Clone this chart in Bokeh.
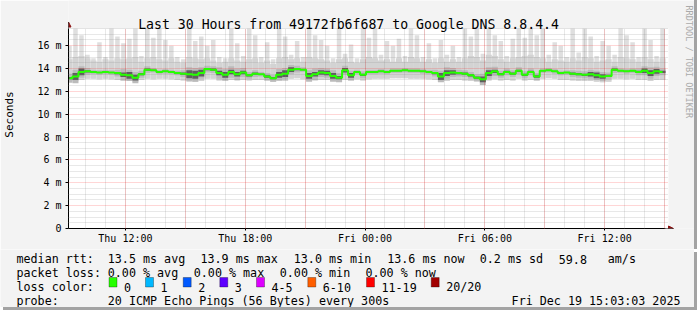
import math
from bokeh.plotting import figure
from bokeh.models import Range1d, FixedTicker, Grid, Label, BoxAnnotation, Arrow, NormalHead
from bokeh.embed import file_html
from bokeh.resources import INLINE

# ---------------- data ----------------
TITLE = "Last 30 Hours from 49172fb6f687 to Google DNS 8.8.4.4"
WATERMARK = "RRDTOOL / TOBI OETIKER"
Y_LABEL = "Seconds"
bin_hours = 0.3          # width of one time bin (hours)
first_bin_center = 9.2   # Thu 09:12
n_bins = 100
hours = [first_bin_center + bin_hours * k for k in range(n_bins)]

median_ms = [13.15, 13.3, 13.7, 13.75, 13.7, 13.65, 13.7, 13.65, 13.6, 13.45,
             13.4, 13.2, 13.5, 13.9, 13.85, 13.7, 13.75, 13.7, 13.6, 13.55,
             13.5, 13.45, 13.6, 13.95, 13.9, 13.6, 13.45, 13.7, 13.5, 13.65,
             13.4, 13.55, 13.5, 13.3, 13.15, 13.45, 13.55, 13.9, 13.95, 13.9,
             13.35, 13.5, 13.65, 13.6, 13.35, 13.2, 13.85, 13.4, 13.7, 13.45,
             13.7, 13.7, 13.75, 13.7, 13.8, 13.8, 13.85, 13.8, 13.8, 13.75,
             13.7, 13.6, 13.3, 13.6, 13.65, 13.6, 13.55, 13.4, 13.2, 13.05,
             13.6, 13.75, 13.5, 13.7, 13.55, 13.8, 13.45, 13.7, 13.3, 13.8,
             13.85, 13.75, 13.6, 13.65, 13.55, 13.5, 13.45, 13.5, 13.4, 13.3,
             13.35, 13.9, 13.8, 13.75, 13.8, 13.7, 13.8, 13.6, 13.75, 13.7]

max_ms = [16.0, 17.5, 16.9, 15.2, 14.9, 16.3, 15.0, 17.5, 16.8, 16.2,
          16.6, 17.5, 15.1, 17.5, 16.7, 17.5, 16.5, 16.0, 15.0, 14.8,
          17.5, 16.4, 16.8, 16.0, 16.5, 15.0, 14.9, 17.5, 16.2, 15.1,
          17.5, 16.9, 15.0, 16.3, 14.8, 17.5, 16.8, 15.2, 16.4, 15.0,
          17.5, 16.9, 16.5, 16.0, 14.9, 17.5, 15.3, 16.1, 14.9, 17.5,
          16.7, 17.5, 15.2, 16.4, 16.0, 16.6, 15.1, 17.5, 16.9, 15.0,
          16.2, 14.9, 16.5, 15.2, 16.0, 15.0, 17.5, 16.8, 17.5, 15.3,
          17.5, 16.9, 16.4, 15.1, 16.6, 17.5, 16.7, 17.5, 16.9, 17.5,
          15.2, 16.3, 16.0, 15.0, 17.5, 15.4, 17.5, 16.8, 15.1, 16.4,
          16.0, 15.2, 17.5, 16.9, 16.3, 15.0, 17.5, 16.5, 15.1, 17.5]

p90_ms = [14.8, 15.0, 15.1, 14.9, 14.7, 14.6, 14.8, 14.7, 14.9, 14.8,
          14.9, 15.0, 14.6, 14.9, 15.0, 14.8, 14.7, 14.9, 14.6, 14.5,
          15.0, 14.9, 14.8, 14.9, 14.7, 14.5, 14.6, 14.9, 14.7, 14.6,
          14.8, 14.9, 14.5, 14.7, 14.4, 14.9, 15.0, 14.8, 14.9, 14.6,
          15.0, 14.9, 14.8, 14.7, 14.5, 14.8, 14.9, 14.6, 14.5, 14.8,
          15.0, 14.9, 14.7, 14.8, 14.6, 14.9, 14.6, 15.0, 14.9, 14.6,
          14.8, 14.5, 14.9, 14.6, 14.8, 14.6, 14.9, 15.1, 15.0, 14.7,
          15.2, 15.1, 14.8, 14.6, 14.9, 15.0, 15.1, 15.2, 15.0, 14.9,
          14.6, 14.8, 14.7, 14.6, 14.9, 14.7, 15.0, 14.9, 14.6, 14.7,
          14.8, 14.6, 15.0, 14.9, 14.8, 14.6, 15.0, 14.8, 14.6, 14.9]

min_ms = [12.95, 12.9, 13.0, 13.1, 13.1, 13.05, 13.1, 13.05, 13.0, 12.95,
          12.9, 12.85, 13.0, 13.1, 13.05, 13.1, 13.1, 13.05, 13.0, 12.95,
          12.85, 12.85, 12.9, 13.1, 13.1, 12.95, 12.9, 13.0, 12.95, 13.0,
          12.95, 13.0, 13.0, 12.9, 12.85, 12.9, 12.9, 13.1, 13.15, 13.05,
          12.9, 12.95, 13.0, 13.0, 12.9, 12.85, 13.0, 12.9, 13.05, 12.95,
          13.05, 13.1, 13.1, 13.1, 13.15, 13.15, 13.15, 13.1, 13.1, 13.1,
          13.05, 13.0, 12.85, 12.9, 13.0, 13.0, 12.95, 12.9, 12.85, 12.75,
          12.95, 13.05, 12.95, 13.0, 12.95, 13.1, 12.95, 13.0, 12.9, 13.1,
          13.15, 13.1, 13.0, 13.0, 12.95, 12.9, 12.9, 12.9, 12.85, 12.8,
          12.85, 13.1, 13.1, 13.05, 13.1, 13.0, 13.0, 12.9, 13.0, 13.0]

mid_spread_ms = [0.4, 0.6, 0.5, 0.3, 0.2, 0.2, 0.2, 0.2, 0.3, 0.5,
                 0.5, 0.5, 0.3, 0.3, 0.2, 0.2, 0.2, 0.2, 0.2, 0.3,
                 0.6, 0.6, 0.5, 0.3, 0.3, 0.5, 0.5, 0.5, 0.5, 0.4,
                 0.3, 0.3, 0.2, 0.3, 0.3, 0.5, 0.5, 0.4, 0.3, 0.2,
                 0.5, 0.5, 0.4, 0.4, 0.5, 0.4, 0.4, 0.4, 0.2, 0.3,
                 0.2, 0.2, 0.2, 0.2, 0.2, 0.2, 0.2, 0.2, 0.2, 0.2,
                 0.2, 0.3, 0.5, 0.5, 0.4, 0.3, 0.3, 0.3, 0.3, 0.5,
                 0.5, 0.4, 0.3, 0.3, 0.3, 0.3, 0.3, 0.3, 0.3, 0.2,
                 0.2, 0.2, 0.2, 0.2, 0.3, 0.3, 0.3, 0.4, 0.4, 0.4,
                 0.3, 0.3, 0.2, 0.2, 0.2, 0.3, 0.4, 0.5, 0.4, 0.3]

dark_spread_ms = [0.1, 0.3, 0.3, 0.1, 0.05, 0.05, 0.05, 0.05, 0.1, 0.2,
                  0.3, 0.25, 0.1, 0.1, 0.05, 0.05, 0.05, 0.05, 0.05, 0.1,
                  0.35, 0.35, 0.3, 0.1, 0.1, 0.2, 0.25, 0.2, 0.2, 0.15,
                  0.1, 0.1, 0.05, 0.1, 0.1, 0.25, 0.3, 0.2, 0.1, 0.05,
                  0.25, 0.2, 0.2, 0.2, 0.25, 0.15, 0.2, 0.2, 0.05, 0.1,
                  0.05, 0.05, 0.05, 0.05, 0.05, 0.05, 0.05, 0.05, 0.05, 0.05,
                  0.05, 0.1, 0.3, 0.25, 0.2, 0.1, 0.1, 0.1, 0.1, 0.25,
                  0.25, 0.15, 0.1, 0.1, 0.1, 0.1, 0.1, 0.1, 0.1, 0.05,
                  0.05, 0.05, 0.05, 0.05, 0.1, 0.1, 0.1, 0.2, 0.25, 0.2,
                  0.1, 0.1, 0.05, 0.05, 0.05, 0.1, 0.2, 0.25, 0.2, 0.1]

x_tick_hours = [12, 18, 24, 30, 36]
x_tick_labels = ["Thu 12:00", "Thu 18:00", "Fri 00:00", "Fri 06:00", "Fri 12:00"]
y_ticks = [0, 2, 4, 6, 8, 10, 12, 14, 16]
y_tick_labels = ["0", "2 m", "4 m", "6 m", "8 m", "10 m", "12 m", "14 m", "16 m"]

rtt_stats = ["13.5 ms avg", "13.9 ms max", "13.0 ms min", "13.6 ms now", "0.2 ms sd", "59.8", "am/s"]
loss_stats = ["0.00 % avg", "0.00 % max", "0.00 % min", "0.00 % now"]
loss_names = ["0", "1", "2", "3", "4-5", "6-10", "11-19", "20/20"]
loss_colors = ["#26FF00", "#00B8FF", "#0059FF", "#5E00FF", "#DD00FF", "#FF5E00", "#FF0000", "#A10000"]
probe_text = "20 ICMP Echo Pings (56 Bytes) every 300s"
stamp_text = "Fri Dec 19 15:03:03 2025"

# ---------------- layout constants (pixels) ----------------
MONO = "DejaVu Sans Mono"
LEG_FONT = "11.7px"
BG = "#F3F3F3"
W = 694
MAIN_H = 249
LEG_H = 307 - MAIN_H
AX_X, AX_Y = 67, 228              # frame left / bottom = axes position
PXH = 20.0                        # px per hour
X0, X1 = 9.15, 39.05              # graph time span (hours since Thu 00:00)
Y1 = 17.5                         # graph top (ms)
PXM = (AX_Y - 28) / Y1            # px per ms


def hx(px):
    return X0 + (px - AX_X) / PXH


def vy(py):
    return (AX_Y - py) / PXM


p = figure(width=W, height=MAIN_H, output_backend="svg", toolbar_location=None,
           x_range=Range1d(X0, hx(W)), y_range=Range1d(0, vy(0)),
           min_border_left=AX_X, min_border_right=0, min_border_top=0,
           min_border_bottom=MAIN_H - AX_Y)
p.background_fill_color = BG
p.border_fill_color = BG
p.outline_line_color = None
p.styles = {"box-shadow": "3px 0 0 #A3A3A3"}

# white graph canvas
p.add_layout(BoxAnnotation(left=X0, right=hx(668), bottom=0, top=Y1, fill_color="white",
                           fill_alpha=1, line_color=None, level="underlay"))

# smoke
p.vbar(x=hours, width=bin_hours * 0.75, bottom=min_ms, top=max_ms, fill_color="#DFDFDF", line_color=None)
p.vbar(x=hours, width=bin_hours, bottom=min_ms, top=p90_ms, fill_color="#D3D3D3", line_color=None)
mid_lo = [m - s for m, s in zip(median_ms, mid_spread_ms)]
mid_hi = [m + s for m, s in zip(median_ms, mid_spread_ms)]
p.vbar(x=hours, width=bin_hours, bottom=mid_lo, top=mid_hi, fill_color="#BBBBBB", line_color=None)
dk_lo = [m - s for m, s in zip(median_ms, dark_spread_ms)]
dk_hi = [m + s for m, s in zip(median_ms, dark_spread_ms)]
p.vbar(x=hours, width=bin_hours, bottom=dk_lo, top=dk_hi, fill_color="#5E5E5E", line_color=None)
# median line coloured by loss (0 loss -> green), drawn above the grid
med = p.step(x=hours, y=median_ms, mode="center", line_color=loss_colors[0], line_width=2)
med.level = "overlay"

# axes
for ax in (p.xaxis[0], p.yaxis[0]):
    ax.axis_line_color = "black"
    ax.major_tick_line_color = "black"
    ax.major_tick_in = 0
    ax.minor_tick_in = 0
    ax.minor_tick_out = 0
    ax.major_label_text_font = MONO
    ax.major_label_text_font_size = "10px"
    ax.major_label_text_color = "black"

p.xaxis.bounds = (X0, X1)
p.xaxis.major_tick_out = 2
p.xaxis.ticker = FixedTicker(ticks=x_tick_hours, minor_ticks=[h for h in range(10, 40)])
p.xaxis.major_label_overrides = dict(zip(x_tick_hours, x_tick_labels))
p.xaxis.major_label_standoff = 2

p.yaxis.bounds = (0, Y1)
p.yaxis.major_tick_out = 3
p.yaxis.ticker = FixedTicker(ticks=y_ticks, minor_ticks=[v / 2 for v in range(1, 36) if v % 4])
p.yaxis.major_label_overrides = dict(zip(y_ticks, y_tick_labels))
p.yaxis.major_label_standoff = 4
p.yaxis.axis_label = Y_LABEL
p.yaxis.axis_label_text_font = MONO
p.yaxis.axis_label_text_font_size = "11px"
p.yaxis.axis_label_text_font_style = "normal"
p.yaxis.axis_label_text_color = "black"
p.yaxis.axis_label_standoff = 18

# grids (drawn over the smoke)
MAJ = dict(color="#FF0000", alpha=0.32)
MIN = dict(color="#808080", alpha=0.36)
p.xgrid.grid_line_color = None
p.xgrid.minor_grid_line_color = MIN["color"]
p.xgrid.minor_grid_line_alpha = MIN["alpha"]
p.xgrid.minor_grid_line_dash = "1 1"
p.xgrid.level = "guide"
p.ygrid.grid_line_color = MAJ["color"]
p.ygrid.grid_line_alpha = MAJ["alpha"]
p.ygrid.grid_line_dash = "1 1"
p.ygrid.minor_grid_line_color = MIN["color"]
p.ygrid.minor_grid_line_alpha = MIN["alpha"]
p.ygrid.minor_grid_line_dash = "1 1"
p.ygrid.level = "guide"
red_x = Grid(dimension=0, ticker=FixedTicker(ticks=list(range(12, 40, 3))),
             grid_line_color=MAJ["color"], grid_line_alpha=MAJ["alpha"], grid_line_dash="1 1", level="guide")
p.add_layout(red_x)
for g, cb in ((p.xgrid[0], (0, Y1)), (red_x, (0, Y1)), (p.ygrid[0], (X0, hx(668)))):
    try:
        g.cross_bounds = cb
    except Exception:
        pass

# axis arrows
HEAD = dict(size=5, fill_color="#8B1010", line_color="#8B1010")
p.add_layout(Arrow(x_start=X0, y_start=Y1, x_end=X0, y_end=vy(21.5), line_color="black",
                   line_width=1, end=NormalHead(**HEAD)))
p.add_layout(Arrow(x_start=X1, y_start=0, x_end=hx(673), y_end=0, line_color="black",
                   line_width=1, end=NormalHead(**HEAD)))

# title and watermark (inside the frame area)
p.add_layout(Label(x=hx(347.5), y=vy(24), text=TITLE, text_font=MONO, text_font_size="13.2px",
                   text_color="black", text_align="center", text_baseline="alphabetic"))
p.add_layout(Label(x=hx(688), y=vy(5), text=WATERMARK, text_font=MONO, text_font_size="8.5px",
                   text_color="#AAAAAA", text_align="left", text_baseline="middle",
                   angle=-math.pi / 2))

# ---------------- legend strip (its own root, pixel coordinates) ----------------
lg = figure(width=W, height=LEG_H, output_backend="svg", toolbar_location=None,
            x_range=Range1d(0, W), y_range=Range1d(307, MAIN_H),
            x_axis_type=None, y_axis_type=None, min_border=0)
lg.background_fill_color = BG
lg.border_fill_color = BG
lg.outline_line_color = None
lg.grid.visible = False
lg.styles = {"box-shadow": "3px 3px 0 #A3A3A3"}


def lab(px, py, text, align="left"):
    lg.add_layout(Label(x=px, y=py, text=text, text_font=MONO, text_font_size=LEG_FONT,
                        text_color="black", text_align=align, text_baseline="alphabetic"))


lab(16, 258.5, "median rtt:")
for xp, t in zip([107.3, 200, 293.3, 386.7, 479.3, 558.3, 607.3], rtt_stats):
    lab(xp, 258.5, t)
lab(16, 272.5, "packet loss:")
for xp, t in zip([107.3, 193.3, 279.3, 365], loss_stats):
    lab(xp, 272.5, t)
lab(16, 286.5, "loss color:")
for xp, name, col in zip([108.5, 145, 182.7, 219.3, 256, 307.3, 366, 430.7], loss_names, loss_colors):
    lg.add_layout(BoxAnnotation(left=xp, right=xp + 8, top=277, bottom=286.5, fill_color=col,
                                fill_alpha=1, line_color="black", line_width=1))
    lab(xp + 15, 286.5, name)
lab(16, 300.5, "probe:")
lab(107.3, 300.5, probe_text)
lab(680, 300.5, stamp_text, align="right")

open("out.html", "w").write(file_html([p, lg], INLINE))
